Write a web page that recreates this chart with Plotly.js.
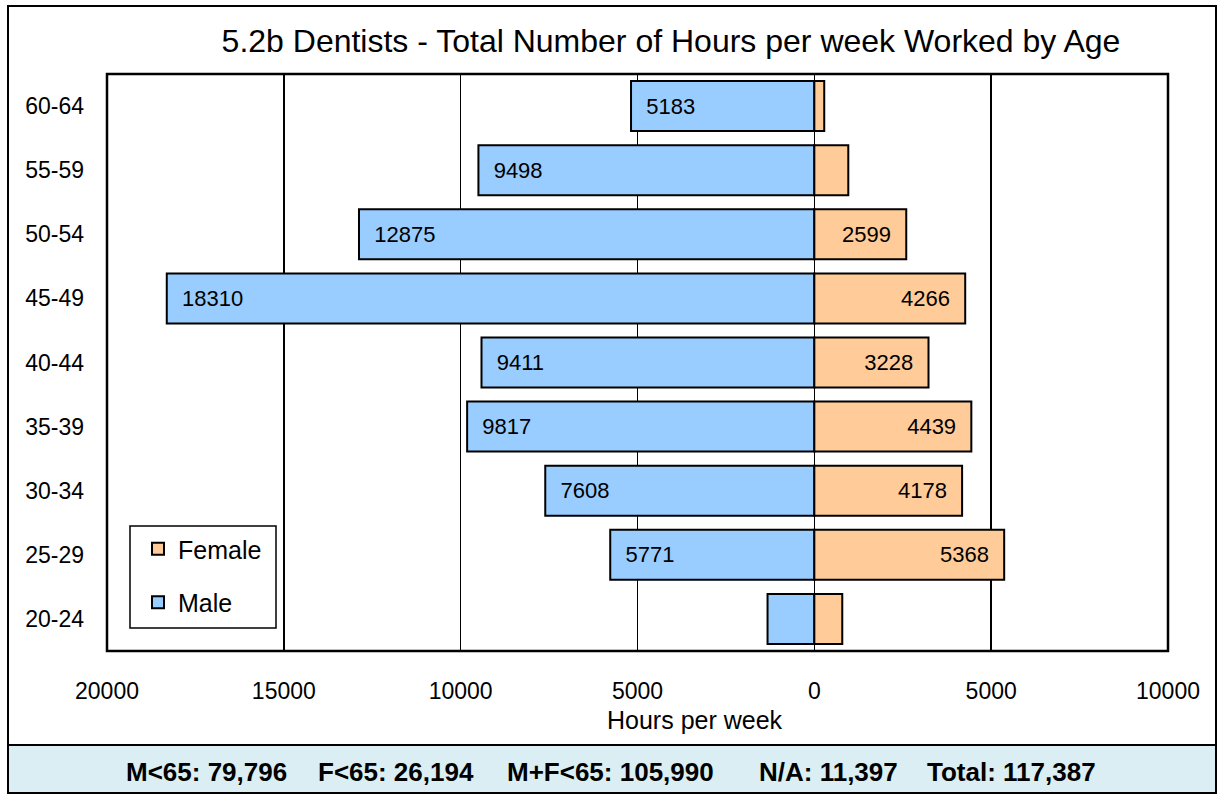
<!DOCTYPE html>
<html>
<head>
<meta charset="utf-8">
<script src="https://cdn.plot.ly/plotly-3.0.1.min.js"></script>
<style>html,body{margin:0;padding:0;background:#fff;}#chart{width:1219px;height:794px;}</style>
</head>
<body>
<div id="chart"></div>
<script>
const ageGroups = ['20-24','25-29','30-34','35-39','40-44','45-49','50-54','55-59','60-64'];
const maleHours = [1323, 5771, 7608, 9817, 9411, 18310, 12875, 9498, 5183];
const femaleHours = [790, 5368, 4178, 4439, 3228, 4266, 2599, 960, 280];
const maleLabels = ['', '5771', '7608', '9817', '9411', '18310', '12875', '9498', '5183'];
const femaleLabels = ['', '5368', '4178', '4439', '3228', '4266', '2599', '', ''];
const tickValues = [-20000, -15000, -10000, -5000, 0, 5000, 10000];
const tickLabels = ['20000', '15000', '10000', '5000', '0', '5000', '10000'];
const summaryItems = ['M<65: 79,796', 'F<65: 26,194', 'M+F<65: 105,990', 'N/A: 11,397', 'Total: 117,387'];
const summaryCenters = [206, 396, 610, 828, 1011];

const W = 1219, H = 794;
const mL = 107, mR = 51, mT = 74, mB = 143;
const pw = W - mL - mR, ph = H - mT - mB;
const px = v => (v - mL) / pw;
const py = v => (H - mB - v) / ph;
const FONT = 'Liberation Sans, Arial, sans-serif';
const pad = '\u00a0\u00a0';

const male = {
  type: 'bar', orientation: 'h', name: 'Male',
  y: ageGroups, x: maleHours.map(v => -v),
  text: maleLabels.map(t => t ? pad + t : ''), textposition: 'inside', insidetextanchor: 'end',
  textfont: {family: FONT, size: 22, color: '#000'},
  marker: {color: '#99CCFF', line: {color: '#000', width: 2}},
  legendgroup: 'm', legendrank: 2, hoverinfo: 'none'
};
const female = {
  type: 'bar', orientation: 'h', name: 'Female',
  y: ageGroups, x: femaleHours,
  text: femaleLabels.map(t => t ? t + pad : ''), textposition: 'inside', insidetextanchor: 'end',
  textfont: {family: FONT, size: 22, color: '#000'},
  marker: {color: '#FFCC99', line: {color: '#000', width: 2}},
  legendgroup: 'f', legendrank: 1, hoverinfo: 'none'
};

const annotations = summaryItems.map((t, i) => ({
  text: '<b>' + t + '</b>', xref: 'paper', yref: 'paper',
  x: px(summaryCenters[i]), y: py(772), xanchor: 'center', yanchor: 'middle',
  showarrow: false, font: {family: FONT, size: 26, color: '#000'}
}));
annotations.push({
  text: 'Hours per week', xref: 'paper', yref: 'paper',
  x: px(695), y: py(720), xanchor: 'center', yanchor: 'middle',
  showarrow: false, font: {family: FONT, size: 25, color: '#000'}
});

const layout = {
  width: W, height: H,
  margin: {l: mL, r: mR, t: mT, b: mB, pad: 0},
  paper_bgcolor: '#fff', plot_bgcolor: '#fff',
  barmode: 'relative', bargap: 0.22,
  font: {family: FONT, color: '#000'},
  title: {text: '5.2b Dentists - Total Number of Hours per week Worked by Age',
          x: 671 / W, xanchor: 'center', xref: 'container',
          y: 1 - 41 / H, yanchor: 'middle', yref: 'container',
          font: {size: 32, color: '#000'}},
  xaxis: {range: [-20000, 10000], tickvals: tickValues, ticktext: tickLabels,
          showgrid: true, gridcolor: '#000', gridwidth: 1.5, zeroline: false,
          showline: false, ticks: '', ticklabelstandoff: 24,
          tickfont: {size: 23, color: '#000'}, fixedrange: true},
  yaxis: {type: 'category', categoryorder: 'array', categoryarray: ageGroups,
          showgrid: false, zeroline: false, showline: false, ticks: '',
          ticklabelstandoff: 22, tickfont: {size: 23, color: '#000'}, fixedrange: true},
  legend: {x: px(138), y: py(526), xanchor: 'left', yanchor: 'top',
           bgcolor: 'rgba(0,0,0,0)', borderwidth: 0,
           traceorder: 'grouped', tracegroupgap: 18,
           font: {size: 25, color: '#000'}, itemwidth: 30},
  showlegend: true,
  annotations: annotations,
  shapes: [
    {type: 'rect', xref: 'paper', yref: 'paper', x0: px(8), x1: px(1216), y0: py(745), y1: py(793),
     fillcolor: '#DAEEF3', line: {color: '#000', width: 2}, layer: 'below'},
    {type: 'rect', xref: 'paper', yref: 'paper', x0: px(8), x1: px(1216), y0: py(6), y1: py(793),
     fillcolor: 'rgba(0,0,0,0)', line: {color: '#000', width: 2}},
    {type: 'rect', xref: 'paper', yref: 'paper', x0: 0, x1: 1, y0: 0, y1: 1,
     fillcolor: 'rgba(0,0,0,0)', line: {color: '#000', width: 2.5}},
    {type: 'rect', xref: 'paper', yref: 'paper', x0: px(130), x1: px(276), y0: py(526), y1: py(628),
     fillcolor: '#fff', line: {color: '#000', width: 1.5}, layer: 'above'}
  ]
};

Plotly.newPlot('chart', [male, female], layout, {staticPlot: true, displayModeBar: false});
</script>
</body>
</html>
